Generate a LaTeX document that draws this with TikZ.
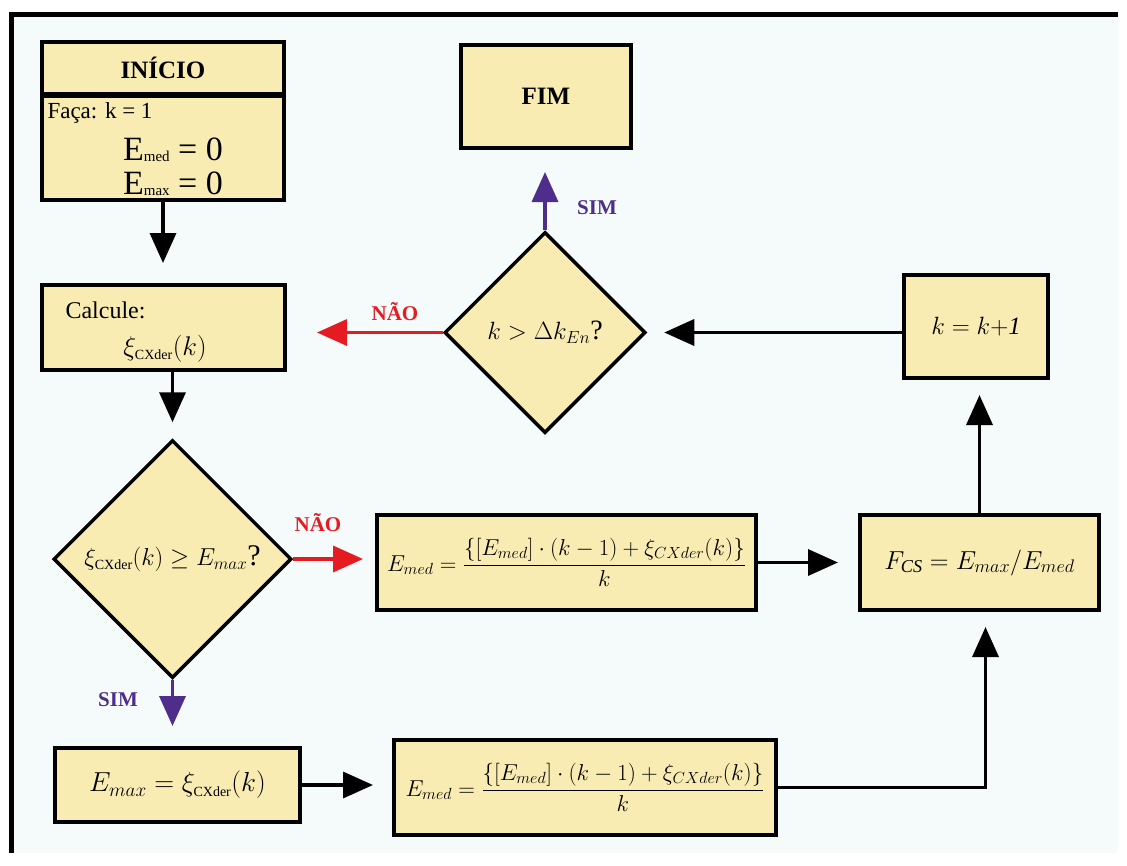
\RequirePackage{fix-cm}
\documentclass[tikz,border=0pt]{standalone}
\usepackage{amsmath}
\usepackage{fontspec}
\setmainfont{Liberation Serif}
\usetikzlibrary{shapes.geometric,arrows.meta}

\definecolor{boxfill}{RGB}{248,236,178}
\definecolor{pagebg}{RGB}{245,250,250}
\definecolor{naocolor}{RGB}{228,28,34}
\definecolor{simcolor}{RGB}{78,46,138}

\newcommand{\fsz}[1]{\fontsize{#1}{#1}\selectfont}
\newcommand{\lowsub}[1]{\raisebox{-1.5pt}{\fsz{15}#1}}
\newcommand{\cx}{\text{\fsz{14}CXder}}

\begin{document}
\begin{tikzpicture}[x=1pt,y=-1pt,
    box/.style={draw,line width=4pt,fill=boxfill,inner sep=0pt},
    decision/.style={diamond,draw,line width=3.5pt,fill=boxfill,aspect=1,inner sep=0pt},
    arr/.style={line width=3.5pt,-{Triangle[length=30pt,width=26pt]}},
    simarr/.style={arr,color=simcolor},
    naoarr/.style={arr,color=naocolor},
    tag/.style={font=\bfseries\fsz{21}}]

  \useasboundingbox (0,0) rectangle (1127,865);
  \fill[white] (0,0) rectangle (1127,865);
  \fill[pagebg] (11,14) rectangle (1118,853);
  \draw[line width=5pt] (11,853) -- (11,14) -- (1118,14);

  % caixas
  \node[box,minimum width=242pt,minimum height=52pt] (inicio) at (163,68) {\bfseries\fsz{25}INÍCIO};
  \node[box,minimum width=242pt,minimum height=104pt] (init) at (163,148) {};
  \node[anchor=west,font=\fsz{23}] (setk) at (44,113) {Faça: k = 1};
  \node[font=\fsz{34}] (setmed) at (173,150) {E\lowsub{med} = 0};
  \node[font=\fsz{34}] (setmax) at (173,184) {E\lowsub{max} = 0};

  \node[box,minimum width=243pt,minimum height=85pt] (calc) at (163.5,327.5) {};
  \node[anchor=west,font=\fsz{24}] (calctxt) at (62,310) {Calcule:};
  \node[font=\fsz{27}] (calcxi) at (165,349) {$\xi_{\cx}(k)$};

  \node[decision,minimum width=238pt,minimum height=238pt] (test1) at (172.5,559)
    {\fsz{24.5}$\xi_{\cx}(k)\geq E_{max}$\fsz{30}?};

  \node[box,minimum width=245pt,minimum height=74pt] (emax) at (177.5,785)
    {\fsz{27.5}$E_{max}=\xi_{\cx}(k)$};
  \node[box,minimum width=379pt,minimum height=95pt] (med1) at (566.5,562.5)
    {\fsz{23}$E_{med}=\dfrac{\{[E_{med}]\cdot(k-1)+\xi_{CXder}(k)\}}{k}$};
  \node[box,minimum width=382pt,minimum height=95pt] (med2) at (585,787.5)
    {\fsz{23}$E_{med}=\dfrac{\{[E_{med}]\cdot(k-1)+\xi_{CXder}(k)\}}{k}$};

  \node[box,minimum width=239pt,minimum height=95pt] (fcs) at (979.5,562.5)
    {\fsz{26}$F_{\mathit{CS}}=E_{max}/E_{med}$};
  \node[box,minimum width=144pt,minimum height=103pt] (incr) at (976,326.5)
    {\fsz{25}$k=k{+}\mathit{1}$};
  \node[decision,minimum width=201pt,minimum height=201pt] (test2) at (545,332.5)
    {\fsz{25}$k>\Delta k_{En}$\fsz{28}?};
  \node[box,minimum width=170pt,minimum height=103pt] (fim) at (546,96.5) {\bfseries\fsz{25}FIM};

  % setas
  \draw[arr,shorten >=20pt] (init.south) -- (init.south |- calc.north);
  \draw[arr,shorten >=16pt] (calc.south -| test1.north) -- (test1.north);
  \draw[naoarr,shorten >=12pt] (test1.east) -- (test1.east -| med1.west);
  \draw[simarr,shorten >=20pt] (test1.south) -- (test1.south |- emax.north);
  \draw[arr,shorten >=19pt] (emax.east) -- (emax.east -| med2.west);
  \draw[arr,shorten >=20pt] (med1.east) -- (med1.east -| fcs.west);
  \draw[arr,shorten >=15pt] (med2.east) -| ([xshift=6pt]fcs.south);
  \draw[arr,shorten >=15pt] (fcs.north) -- (fcs.north |- incr.south);
  \draw[arr,shorten >=17pt] (incr.west |- test2.east) -- (test2.east);
  \draw[simarr,shorten >=22pt] (test2.north) -- (test2.north |- fim.south);
  \draw[naoarr,shorten >=30pt] (test2.west) -- (test2.west -| calc.east);

  % rótulos
  \node[tag,text=naocolor] (nao1) at (318,523) {NÃO};
  \node[tag,text=simcolor] (sim1) at (118,700) {SIM};
  \node[tag,text=naocolor] (nao2) at (395,312) {NÃO};
  \node[tag,text=simcolor] (sim2) at (597,208) {SIM};

\end{tikzpicture}
\end{document}
